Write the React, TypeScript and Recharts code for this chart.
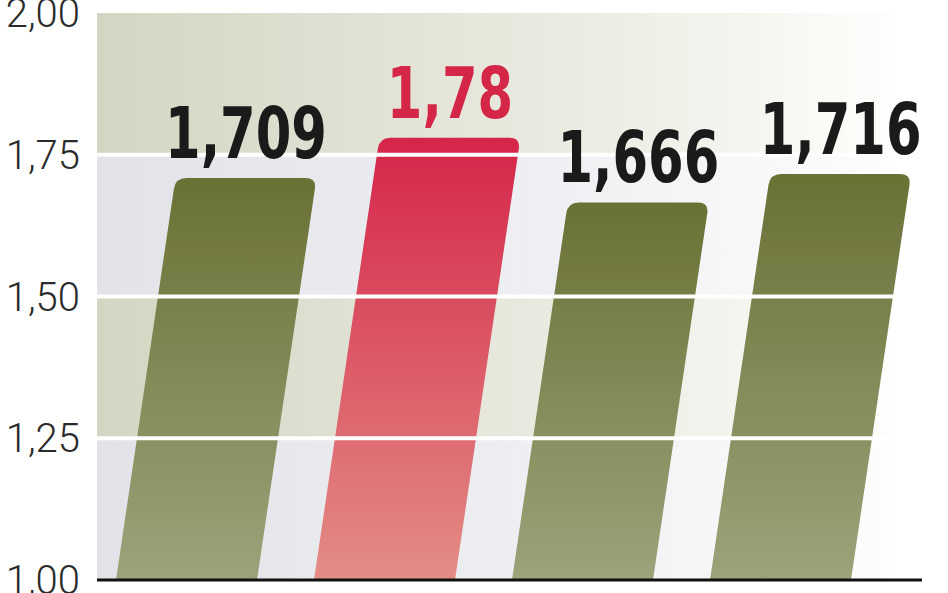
import { BarChart, Bar, XAxis, YAxis, ReferenceArea, ReferenceLine, LabelList } from 'recharts';

const categories = ['A', 'B', 'C', 'D'];
const values = [1.709, 1.78, 1.666, 1.716];
const highlighted = [false, true, false, false];
const yTicks = [1, 1.25, 1.5, 1.75, 2];
const gridLines = [1.25, 1.5, 1.75];

const data = categories.map((name, i) => ({ name, value: values[i], hot: highlighted[i] }));

// bars lean to the right, like in the print graphic
const SLANT = 0.148;
const SHIFT = -10;
const fmt = (v: number) => String(v).replace('.', ',');

function SlantBar(props: any) {
  const { x, y, width, height, payload } = props;
  const r = 11;
  const x0 = x + SHIFT;
  const yb = y + height;
  const dx = SLANT * height;
  const tl = x0 + dx;
  const tr = x0 + width + dx;
  const len = Math.sqrt(1 + SLANT * SLANT);
  const ex = (SLANT / len) * r;
  const ey = r / len;
  const d = `M${x0},${yb} L${tl - ex},${y + ey} Q${tl},${y} ${tl + r},${y} L${tr - r},${y} Q${tr},${y} ${tr - ex},${y + ey} L${x0 + width},${yb} Z`;
  return <path d={d} fill={payload.hot ? 'url(#redFill)' : 'url(#greenFill)'} />;
}

function TopLabel(props: any) {
  const { x, y, width, height, value, index } = props;
  const cx = x + SHIFT + width / 2 + SLANT * height;
  // condensed look: squeeze the bold face horizontally
  return (
    <text
      x={0}
      y={0}
      transform={`translate(${cx},${y - 20}) scale(0.79,1)`}
      textAnchor="middle"
      fontFamily="'Liberation Sans Narrow', 'DejaVu Sans Condensed', Roboto, sans-serif"
      fontWeight={700}
      fontSize={72}
      fill={highlighted[index] ? '#d42748' : '#1a1a1a'}
    >
      {fmt(value)}
    </text>
  );
}

export default function App() {
  return (
    <div style={{ position: 'absolute', left: 0, top: 0 }}>
      <BarChart width={948} height={593} data={data} margin={{ top: 13, right: 26, left: 0, bottom: 12 }}>
        <defs>
          <linearGradient id="greenFill" x1="0" y1="0" x2="0" y2="1">
            <stop offset="0%" stopColor="#6a7135" />
            <stop offset="100%" stopColor="#9da27a" />
          </linearGradient>
          <linearGradient id="redFill" x1="0" y1="0" x2="0" y2="1">
            <stop offset="0%" stopColor="#d5254a" />
            <stop offset="100%" stopColor="#e38d85" />
          </linearGradient>
          <linearGradient id="bandBeige" x1="0" y1="0" x2="1" y2="0">
            <stop offset="0%" stopColor="#d4d5c2" />
            <stop offset="55%" stopColor="#e9e9df" />
            <stop offset="100%" stopColor="#fdfdfb" />
          </linearGradient>
          <linearGradient id="bandGrey" x1="0" y1="0" x2="1" y2="0">
            <stop offset="0%" stopColor="#e1e3e8" />
            <stop offset="55%" stopColor="#eeeff2" />
            <stop offset="100%" stopColor="#fdfdfd" />
          </linearGradient>
        </defs>
        <ReferenceArea y1={1.75} y2={2} fill="url(#bandBeige)" fillOpacity={1} />
        <ReferenceArea y1={1.5} y2={1.75} fill="url(#bandGrey)" fillOpacity={1} />
        <ReferenceArea y1={1.25} y2={1.5} fill="url(#bandBeige)" fillOpacity={1} />
        <ReferenceArea y1={1} y2={1.25} fill="url(#bandGrey)" fillOpacity={1} />
        <XAxis
          dataKey="name"
          tick={false}
          tickLine={false}
          height={1}
          padding={{ left: 0, right: 33 }}
          axisLine={{ stroke: '#111', strokeWidth: 3 }}
        />
        <YAxis
          type="number"
          domain={[1, 2]}
          ticks={yTicks}
          interval={0}
          width={97}
          axisLine={false}
          tickLine={false}
          tickSize={0}
          tickMargin={17}
          tickFormatter={(v: number) => v.toFixed(2).replace('.', ',')}
          tick={{ fontFamily: 'Roboto', fontWeight: 300, fontSize: 40, fill: '#2b2b2b' }}
        />
        <Bar dataKey="value" barSize={141} shape={<SlantBar />} isAnimationActive={false}>
          <LabelList dataKey="value" content={<TopLabel />} />
        </Bar>
        {gridLines.map((v) => (
          <ReferenceLine key={v} y={v} stroke="#ffffff" strokeWidth={4} />
        ))}
      </BarChart>
    </div>
  );
}
